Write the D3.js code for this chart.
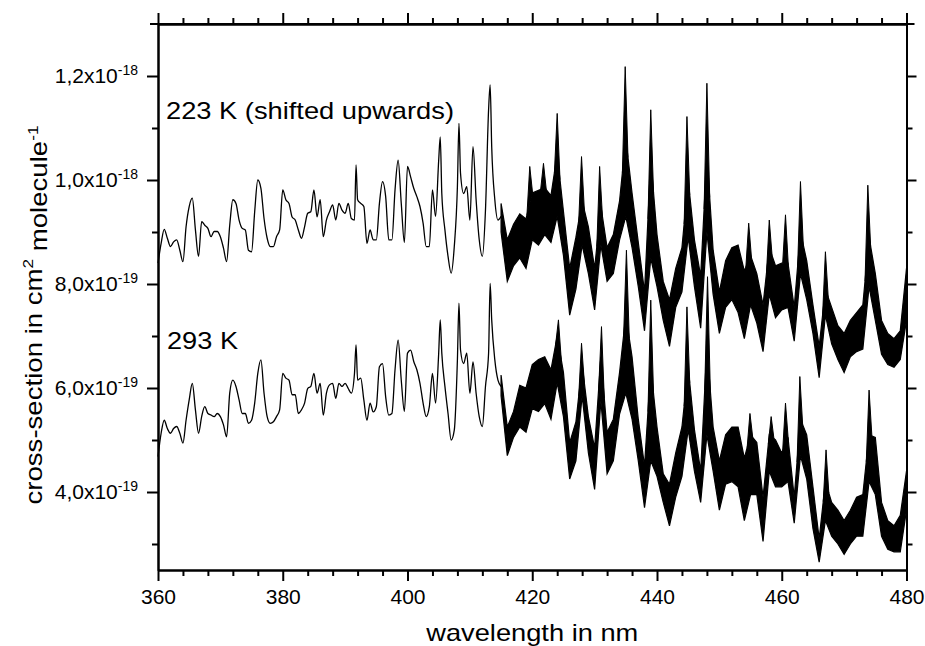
<!DOCTYPE html>
<html>
<head>
<meta charset="utf-8">
<script src="https://cdn.jsdelivr.net/npm/d3@7"></script>
<style>
  body { margin: 0; background: #fff; }
  text { font-family: "Liberation Sans", Arial, sans-serif; fill: #000; }
</style>
</head>
<body>
<div id="chart"></div>
<script>
// values in units of 1e-19 cm^2 molecule^-1

// smooth part (360-415 nm), one value per wavelength
const wlLine = [360, 360.5, 361, 361.5, 362, 362.5, 363, 363.5, 364, 364.5, 365, 365.5, 366, 366.5, 367, 367.5, 368, 368.5, 369, 369.5,
  370, 370.5, 371, 371.5, 372, 372.5, 373, 373.5, 374, 374.5, 375, 375.5, 376, 376.5, 377, 377.5, 378, 378.5, 379, 379.5,
  380, 380.5, 381, 381.5, 382, 382.5, 383, 383.5, 384, 384.5, 385, 385.5, 386, 386.5, 387, 387.5, 388, 388.5, 389, 389.5,
  390, 390.5, 391, 391.5, 391.75, 392, 392.5, 393, 393.5, 394, 394.5, 395, 395.5, 396, 396.5, 397, 397.5, 398, 398.5, 399, 399.5,
  400, 400.5, 401, 401.5, 402, 402.5, 403, 403.5, 404, 404.5, 405, 405.25, 405.5, 406, 406.5, 407, 407.5, 408, 408.25, 408.5, 409, 409.5,
  410, 410.5, 411, 411.5, 412, 412.5, 413, 413.25, 413.5, 414, 414.5, 415];

const line223 = [8.40, 8.78, 9.05, 8.88, 8.72, 8.81, 8.85, 8.65, 8.43, 9.10, 9.49, 9.65, 9.04, 8.53, 9.20, 9.13, 9.07, 8.91, 9.01, 9.01,
  8.91, 8.69, 8.43, 9.13, 9.62, 9.55, 9.23, 9.07, 9.04, 8.65, 8.62, 9.39, 10.00, 9.84, 9.26, 8.88, 8.72, 8.72, 8.91, 9.04,
  9.81, 9.62, 9.55, 9.29, 9.23, 9.04, 8.88, 9.10, 9.36, 9.39, 9.81, 9.29, 9.62, 8.91, 9.23, 9.39, 9.52, 9.23, 9.55, 9.42,
  9.36, 9.55, 9.26, 9.23, 10.29, 9.62, 9.55, 9.49, 8.78, 9.04, 8.85, 8.85, 9.55, 9.97, 9.68, 8.85, 8.85, 9.81, 10.38, 9.55, 8.80,
  10.26, 10.06, 9.84, 9.68, 9.49, 9.17, 8.72, 8.72, 9.81, 9.30, 10.38, 10.83, 9.74, 9.04, 8.53, 8.21, 8.72, 9.87, 11.09, 10.13, 9.74, 9.87,
  9.23, 10.64, 9.62, 8.85, 8.53, 9.42, 11.35, 11.83, 10.64, 9.62, 9.23, 9.30];

const line293 = [4.68, 5.13, 5.38, 5.22, 5.13, 5.22, 5.26, 5.13, 4.94, 5.38, 5.77, 6.09, 5.58, 5.13, 5.45, 5.64, 5.51, 5.48, 5.45, 5.51,
  5.45, 5.29, 5.06, 5.90, 6.15, 6.03, 5.77, 5.51, 5.51, 5.32, 5.38, 5.71, 6.28, 6.54, 5.90, 5.45, 5.32, 5.35, 5.45, 5.58,
  6.28, 6.19, 6.15, 5.87, 5.87, 5.51, 5.58, 5.71, 5.99, 6.03, 6.28, 5.90, 6.09, 5.48, 5.90, 6.06, 6.09, 5.80, 6.09, 6.03,
  6.09, 5.99, 5.90, 6.28, 6.83, 6.15, 6.19, 5.77, 5.38, 5.71, 5.54, 5.64, 6.41, 6.47, 5.83, 5.48, 5.51, 6.35, 6.92, 6.15, 5.55,
  6.67, 6.73, 6.51, 6.35, 6.09, 5.71, 5.45, 5.64, 6.28, 5.71, 6.67, 7.31, 6.67, 6.03, 5.51, 5.00, 5.19, 6.54, 7.63, 6.73, 6.47, 6.67,
  5.90, 6.50, 5.90, 5.45, 5.26, 6.03, 6.67, 8.01, 7.31, 6.54, 6.15, 6.03];

// noisy part (415-480 nm): upper and lower edge of the dense trace per nm
const wlBand = [415, 416, 417, 418, 419, 420, 421, 422, 423, 424, 425, 426, 427, 428, 429, 430, 431, 432, 433, 434,
  435, 436, 437, 438, 439, 440, 441, 442, 443, 444, 445, 446, 447, 448, 449, 450, 451, 452, 453, 454,
  455, 456, 457, 458, 459, 460, 461, 462, 463, 464, 465, 466, 467, 468, 469, 470, 471, 472, 473, 474,
  475, 476, 477, 478, 479, 480];

const hi223 = [9.55, 8.85, 9.15, 9.35, 9.25, 9.75, 9.80, 9.85, 9.70, 10.50, 9.40, 8.30, 8.90, 9.60, 9.10, 8.30, 9.50, 8.70, 8.95, 9.60,
  10.80, 9.75, 8.80, 7.85, 10.40, 8.95, 8.05, 7.70, 8.30, 8.70, 10.00, 8.85, 8.15, 10.50, 8.65, 7.85, 8.45, 8.70, 8.75, 8.25,
  8.55, 8.20, 7.60, 8.70, 8.35, 8.40, 8.40, 7.55, 9.00, 8.45, 7.60, 6.80, 7.90, 7.55, 7.20, 7.05, 7.30, 7.45, 7.60, 8.90,
  8.20, 7.30, 7.05, 6.95, 7.10, 8.30];
const lo223 = [9.00, 8.05, 8.35, 8.50, 8.30, 8.85, 8.75, 8.95, 8.80, 9.30, 8.55, 7.40, 7.90, 8.75, 8.20, 7.50, 8.75, 8.05, 8.20, 8.85,
  9.30, 8.70, 7.95, 7.10, 8.50, 7.95, 7.30, 6.80, 7.55, 7.85, 8.90, 7.95, 7.15, 9.00, 7.80, 7.05, 7.55, 7.70, 7.45, 6.95,
  7.60, 7.25, 6.70, 7.80, 7.35, 7.50, 7.55, 6.90, 8.20, 7.70, 7.05, 6.20, 7.40, 6.85, 6.55, 6.30, 6.60, 6.70, 6.75, 7.95,
  7.30, 6.65, 6.45, 6.40, 6.55, 7.30];

const hi293 = [6.25, 5.25, 5.55, 6.05, 6.00, 6.45, 6.55, 6.60, 6.35, 7.00, 6.30, 4.95, 5.35, 6.45, 5.45, 4.85, 6.60, 5.15, 5.40, 6.30,
  7.40, 6.60, 5.40, 4.50, 6.40, 5.25, 4.35, 4.15, 4.75, 5.25, 6.40, 5.20, 4.40, 6.80, 5.25, 4.60, 5.10, 5.25, 5.25, 4.65,
  5.10, 4.95, 3.90, 5.10, 5.00, 4.75, 5.05, 3.90, 5.40, 5.10, 4.10, 3.10, 4.20, 3.80, 3.65, 3.45, 3.65, 3.90, 3.95, 5.10,
  5.05, 3.80, 3.45, 3.35, 3.55, 4.40];
const lo293 = [5.85, 4.70, 5.05, 5.25, 5.15, 5.60, 5.55, 5.70, 5.40, 6.10, 5.45, 4.25, 4.60, 5.85, 4.75, 4.05, 5.75, 4.35, 4.60, 5.50,
  5.90, 5.40, 4.60, 3.70, 4.60, 4.30, 3.80, 3.35, 3.90, 4.30, 5.20, 4.40, 3.80, 5.10, 4.40, 3.65, 4.15, 4.20, 4.10, 3.45,
  3.95, 3.95, 3.05, 4.40, 4.10, 4.10, 4.20, 3.40, 4.70, 4.25, 3.30, 2.65, 3.45, 3.15, 3.00, 2.80, 3.00, 3.15, 3.15, 4.20,
  3.95, 3.15, 2.90, 2.85, 2.85, 3.65];

// narrow spikes sticking out of the dense trace
const spikeWl223 = [419.6, 421.8, 424.0, 427.9, 430.8, 434.9, 439.0, 444.8, 448.0, 454.7, 458.0, 460.6, 463.0, 467.0, 473.8];
const spikeTop223 = [10.26, 10.32, 11.28, 10.45, 10.26, 12.18, 11.35, 11.22, 11.86, 9.17, 9.23, 9.33, 9.97, 8.62, 9.90];
const spikeWl293 = [424.2, 427.9, 431.1, 435.1, 439.0, 444.8, 448.1, 454.9, 458.3, 460.6, 462.9, 467.1, 474.0];
const spikeTop293 = [7.31, 6.86, 7.18, 8.65, 7.69, 7.56, 8.14, 5.51, 5.45, 5.71, 6.22, 4.81, 5.96];

const xMajorTicks = [360, 380, 400, 420, 440, 460, 480];
const xMinorTicks = [364, 368, 372, 376, 384, 388, 392, 396, 404, 408, 412, 416, 424, 428, 432, 436,
  444, 448, 452, 456, 464, 468, 472, 476];
const yMajorTicks = [4, 6, 8, 10, 12];
const yMinorTicks = [3, 5, 7, 9, 11];

const width = 925;
const height = 646;
const margin = { top: 24, right: 18.5, bottom: 76, left: 158 };
const innerW = width - margin.left - margin.right;
const innerH = height - margin.top - margin.bottom;

const svg = d3.select('#chart')
  .append('svg')
  .attr('width', width)
  .attr('height', height);

const g = svg.append('g')
  .attr('transform', `translate(${margin.left},${margin.top})`);

const x = d3.scaleLinear().domain([360, 480]).range([0, innerW]);
const y = d3.scaleLinear().domain([2.5, 13]).range([innerH, 0]);

// spectra
const line = d3.line().curve(d3.curveMonotoneX).x(d => x(d[0])).y(d => y(d[1]));
const band = d3.area().x(d => x(d[0])).y0(d => y(d[1])).y1(d => y(d[2]));

[line223, line293].forEach(vals => {
  g.append('path')
    .datum(wlLine.map((w, i) => [w, vals[i]]))
    .attr('d', line)
    .attr('fill', 'none')
    .attr('stroke', '#000')
    .attr('stroke-width', 1.3);
});

[[lo223, hi223, spikeWl223, spikeTop223], [lo293, hi293, spikeWl293, spikeTop293]].forEach(([lo, hi, sw, st]) => {
  g.append('path')
    .datum(wlBand.map((w, i) => [w, lo[i], hi[i]]))
    .attr('d', band)
    .attr('fill', '#000')
    .attr('stroke', '#000')
    .attr('stroke-width', 1.2);

  // spikes rise from the upper edge of the band
  const edge = d3.scaleLinear().domain(wlBand).range(hi);
  g.selectAll(null)
    .data(sw.map((w, i) => [w, st[i]]))
    .join('path')
    .attr('d', d => d3.line()([
      [x(d[0] - 0.45), y(edge(d[0] - 0.45))],
      [x(d[0]), y(d[1])],
      [x(d[0] + 0.45), y(edge(d[0] + 0.45))]
    ]))
    .attr('fill', '#000')
    .attr('stroke', '#000')
    .attr('stroke-width', 1);
});

// axes
function styleAxis(sel) {
  sel.selectAll('path.domain').attr('stroke', '#000').attr('stroke-width', 2);
  sel.selectAll('.tick line').attr('stroke', '#000').attr('stroke-width', 2);
}

const xBottom = g.append('g').attr('transform', `translate(0,${innerH})`)
  .call(d3.axisBottom(x).tickValues(xMajorTicks).tickSize(11).tickSizeOuter(0).tickPadding(8).tickFormat(d3.format('d')));
xBottom.selectAll('text').attr('font-size', 21).attr('font-family', '"Liberation Sans", Arial, sans-serif');
styleAxis(xBottom);
styleAxis(g.append('g').attr('transform', `translate(0,${innerH})`)
  .call(d3.axisBottom(x).tickValues(xMinorTicks).tickSize(6).tickSizeOuter(0).tickFormat('')));

styleAxis(g.append('g')
  .call(d3.axisTop(x).tickValues(xMajorTicks).tickSize(11).tickSizeOuter(0).tickFormat('')));
styleAxis(g.append('g')
  .call(d3.axisTop(x).tickValues(xMinorTicks).tickSize(6).tickSizeOuter(0).tickFormat('')));

const yLeft = g.append('g')
  .call(d3.axisLeft(y).tickValues(yMajorTicks).tickSize(11).tickSizeOuter(0));
styleAxis(yLeft);
yLeft.selectAll('text').each(function (d) {
  const t = d3.select(this).text(null)
    .attr('x', -20)
    .attr('font-size', 21)
    .attr('font-family', '"Liberation Sans", Arial, sans-serif');
  const exp = d >= 10 ? -18 : -19;
  const mant = d >= 10 ? d / 10 : d;
  t.append('tspan').text(mant.toFixed(1).replace('.', ',') + 'x10');
  t.append('tspan').attr('font-size', 14).attr('dy', '-0.6em').text(exp);
});
styleAxis(g.append('g')
  .call(d3.axisLeft(y).tickValues(yMinorTicks).tickSize(6).tickSizeOuter(0).tickFormat('')));

styleAxis(g.append('g').attr('transform', `translate(${innerW},0)`)
  .call(d3.axisRight(y).tickValues(yMajorTicks).tickSize(10).tickSizeOuter(0).tickFormat('')));
styleAxis(g.append('g').attr('transform', `translate(${innerW},0)`)
  .call(d3.axisRight(y).tickValues(yMinorTicks).tickSize(6).tickSizeOuter(0).tickFormat('')));

// top frame line runs a little past the corners
g.append('line')
  .attr('x1', x.range()[0] - 8).attr('x2', x.range()[1] + 8)
  .attr('y1', 0).attr('y2', 0)
  .attr('stroke', '#000').attr('stroke-width', 2);

// titles
g.append('text')
  .attr('x', innerW / 2)
  .attr('y', innerH + 71)
  .attr('text-anchor', 'middle')
  .attr('font-size', 24)
  .attr('textLength', 212)
  .attr('lengthAdjust', 'spacingAndGlyphs')
  .text('wavelength in nm');

const yTitle = svg.append('text')
  .attr('transform', `translate(42,${margin.top + innerH / 2 + 18}) rotate(-90)`)
  .attr('text-anchor', 'middle')
  .attr('font-size', 24)
  .attr('textLength', 379)
  .attr('lengthAdjust', 'spacingAndGlyphs');
yTitle.append('tspan').text('cross-section in cm');
yTitle.append('tspan').attr('font-size', 15).attr('dy', '-0.6em').text('2');
yTitle.append('tspan').attr('dy', '0.6em').text(' molecule');
yTitle.append('tspan').attr('font-size', 15).attr('dy', '-0.6em').text('-1');

// curve labels
g.append('text')
  .attr('x', 8).attr('y', 95)
  .attr('font-size', 24)
  .attr('textLength', 288)
  .attr('lengthAdjust', 'spacingAndGlyphs')
  .text('223 K (shifted upwards)');

g.append('text')
  .attr('x', 9).attr('y', 325)
  .attr('font-size', 24)
  .attr('textLength', 71)
  .attr('lengthAdjust', 'spacingAndGlyphs')
  .text('293 K');
</script>
</body>
</html>
